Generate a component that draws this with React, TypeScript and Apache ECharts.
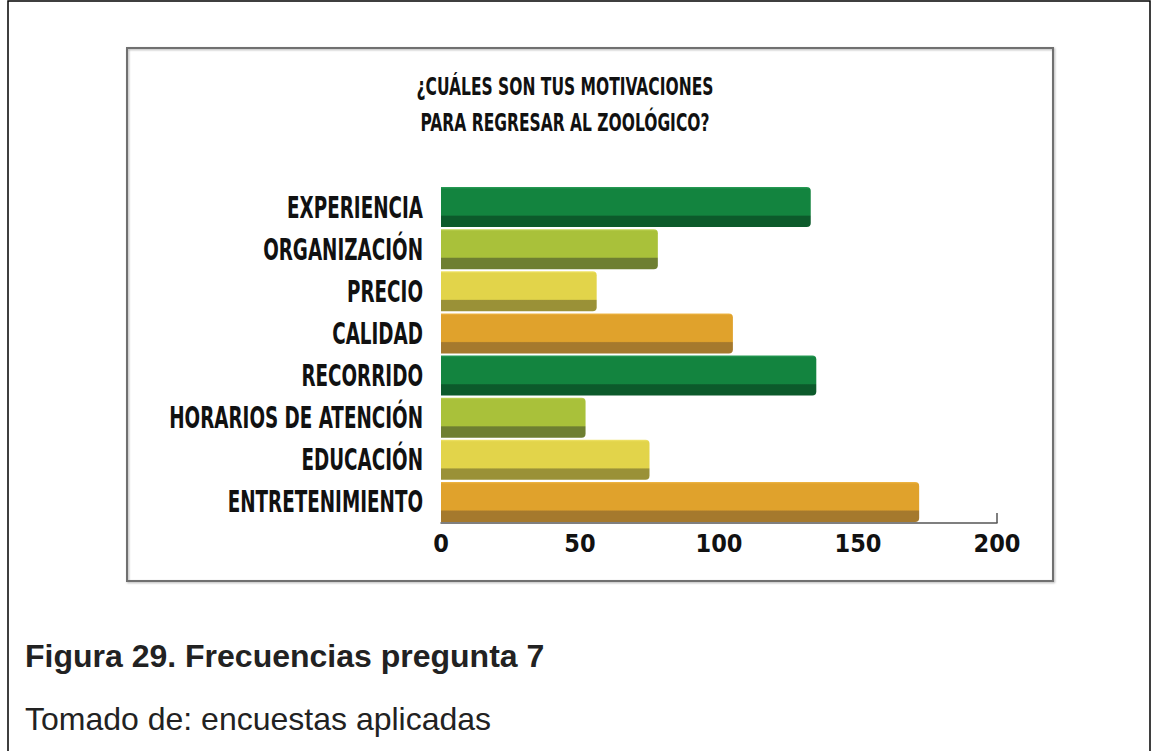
import React, { useEffect, useRef } from "react";
import * as echarts from "echarts";

const categories = [
  "EXPERIENCIA",
  "ORGANIZACIÓN",
  "PRECIO",
  "CALIDAD",
  "RECORRIDO",
  "HORARIOS DE ATENCIÓN",
  "EDUCACIÓN",
  "ENTRETENIMIENTO",
];
const values = [133, 78, 56, 105, 135, 52, 75, 172];
const tickValues = [0, 50, 100, 150, 200];
const titleLines = ["¿CUÁLES SON TUS MOTIVACIONES", "PARA REGRESAR AL ZOOLÓGICO?"];
const captionTitle = "Figura 29. Frecuencias pregunta 7";
const captionSource = "Tomado de: encuestas aplicadas";

const palette = [
  { top: "#2a9e58", main: "#13843f", band: "#0c5a2b" },
  { top: "#c3d65a", main: "#a9c13a", band: "#6e7f31" },
  { top: "#f0e46a", main: "#e2d44a", band: "#9a9137" },
  { top: "#f0b848", main: "#e0a22c", band: "#a5792d" },
];

const CONDENSED = "'DejaVu Sans Condensed', 'DejaVu Sans', sans-serif";
const LABEL_SQ = 0.68;
const TITLE_SQ = 0.69;

export default function App() {
  const ref = useRef<HTMLDivElement>(null);
  useEffect(() => {
    if (!ref.current) return;
    const chart = echarts.init(ref.current, null, { renderer: "svg" });
    const data = values.map((v, i) => {
      const p = palette[i % palette.length];
      return {
        value: v,
        itemStyle: {
          color: new echarts.graphic.LinearGradient(0, 0, 0, 1, [
            { offset: 0, color: p.top },
            { offset: 0.05, color: p.main },
            { offset: 0.7, color: p.main },
            { offset: 0.73, color: p.band },
            { offset: 1, color: p.band },
          ]),
          borderRadius: [0, 4, 4, 0],
        },
      };
    });
    chart.setOption({
      animation: false,
      backgroundColor: "#ffffff",
      grid: { left: 441, top: 186, width: 556, height: 337, containLabel: false },
      xAxis: {
        type: "value",
        min: 0,
        max: 200,
        interval: 50,
        splitLine: { show: false },
        axisLine: { show: true, lineStyle: { color: "#555", width: 1.5 } },
        axisTick: { show: true, customValues: [200], inside: true, length: 10, lineStyle: { color: "#555", width: 1.5 } },
        axisLabel: {
          customValues: tickValues,
          margin: 8,
          color: "#111",
          fontFamily: CONDENSED,
          fontWeight: "bold",
          fontSize: 25,
        },
      },
      yAxis: {
        type: "category",
        data: categories,
        inverse: true,
        axisLine: { show: false },
        axisTick: { show: false },
        axisLabel: { show: false },
      },
      series: [
        {
          type: "bar",
          data,
          barWidth: 40,
        },
      ],
    });

    const labelGraphics = categories.map((c) => {
      const y = chart.convertToPixel({ yAxisIndex: 0 }, c) as number;
      return {
        type: "text",
        x: 423,
        y,
        scaleX: LABEL_SQ,
        style: {
          text: c,
          textAlign: "right",
          textVerticalAlign: "middle",
          fontFamily: CONDENSED,
          fontWeight: "bold",
          fontSize: 30,
          fill: "#111",
        },
      };
    });

    chart.setOption({
      graphic: [
        {
          type: "rect",
          shape: { x: 8, y: 1, width: 1142, height: 800 },
          style: { fill: "none", stroke: "#000", lineWidth: 1.5 },
          silent: true,
          z: -10,
        },
        {
          type: "rect",
          shape: { x: 127, y: 48, width: 926, height: 533 },
          style: { fill: "none", stroke: "#6f6f6f", lineWidth: 2, shadowColor: "rgba(0,0,0,0.3)", shadowBlur: 2, shadowOffsetX: 1, shadowOffsetY: 1 },
          silent: true,
          z: -10,
        },
        {
          type: "text",
          x: 565,
          y: 86,
          scaleX: TITLE_SQ,
          style: {
            text: titleLines[0],
            textAlign: "center",
            textVerticalAlign: "middle",
            fontFamily: CONDENSED,
            fontWeight: "bold",
            fontSize: 25,
            fill: "#111",
          },
        },
        {
          type: "text",
          x: 565,
          y: 122,
          scaleX: TITLE_SQ,
          style: {
            text: titleLines[1],
            textAlign: "center",
            textVerticalAlign: "middle",
            fontFamily: CONDENSED,
            fontWeight: "bold",
            fontSize: 25,
            fill: "#111",
          },
        },
        ...labelGraphics,
        {
          type: "text",
          x: 25,
          y: 656,
          style: {
            text: captionTitle,
            textAlign: "left",
            textVerticalAlign: "middle",
            fontFamily: "'Liberation Sans', Arial, sans-serif",
            fontWeight: "bold",
            fontSize: 32,
            fill: "#222",
          },
        },
        {
          type: "text",
          x: 25,
          y: 719,
          style: {
            text: captionSource,
            textAlign: "left",
            textVerticalAlign: "middle",
            fontFamily: "'Liberation Sans', Arial, sans-serif",
            fontSize: 32,
            fill: "#222",
          },
        },
      ],
    });
    return () => chart.dispose();
  }, []);
  return (
    <div
      ref={ref}
      style={{ position: "fixed", left: 0, top: 0, width: 1160, height: 751 }}
    />
  );
}
